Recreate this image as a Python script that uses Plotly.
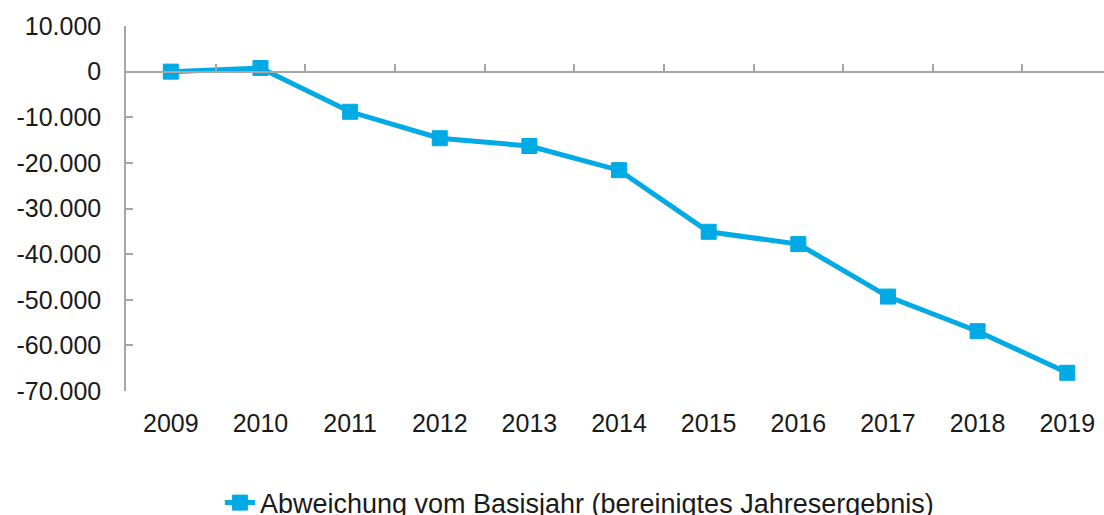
import plotly.graph_objects as go

years = ["2009", "2010", "2011", "2012", "2013", "2014", "2015", "2016", "2017", "2018", "2019"]
abweichung = [0, 800, -8800, -14600, -16300, -21600, -35100, -37800, -49300, -56900, -66000]
y_ticks = [10000, 0, -10000, -20000, -30000, -40000, -50000, -60000, -70000]
y_ticktext = [f"{v:,}".replace(",", ".") for v in y_ticks]
series_name = "Abweichung vom Basisjahr (bereinigtes Jahresergebnis)"

BLUE = "#00AAE4"
GRAY = "#A6A6A6"
FONT = "Arial, Liberation Sans, sans-serif"

x_idx = list(range(len(years)))
y_min, y_max = -70000, 10000
x_range = [-0.5, 10.41]

fig = go.Figure()
fig.add_trace(go.Scatter(
    x=x_idx, y=abweichung, mode="lines+markers", name=series_name,
    line=dict(color=BLUE, width=5),
    marker=dict(symbol="square", size=15, color=BLUE, line=dict(color=BLUE, width=1)),
    xaxis="x", yaxis="y",
))
# invisible trace to render the zero-line category axis
fig.add_trace(go.Scatter(x=[x_idx[0]], y=[0], mode="markers", marker=dict(opacity=0),
                         showlegend=False, hoverinfo="skip", xaxis="x2", yaxis="y"))

fig.update_layout(
    width=1104, height=515,
    margin=dict(l=126, r=0, t=26, b=124, autoexpand=False),
    paper_bgcolor="white", plot_bgcolor="white",
    font=dict(family=FONT, size=25, color="#1a1a1a"),
    showlegend=True,
    legend=dict(orientation="h", x=0.096, xanchor="left", y=-0.307, yanchor="middle",
                font=dict(size=27, color="#1a1a1a")),
    xaxis=dict(
        range=x_range, tickmode="array", tickvals=x_idx, ticktext=years,
        showgrid=False, zeroline=False, showline=False, ticks="", ticklabelstandoff=15,
        tickfont=dict(size=25),
    ),
    xaxis2=dict(
        range=x_range, overlaying="x", anchor="free",
        position=(0 - y_min) / (y_max - y_min), side="bottom",
        tickmode="array", tickvals=[i + 0.5 for i in x_idx[:-1]],
        showticklabels=False, ticks="inside", ticklen=7, tickwidth=1.5, tickcolor=GRAY,
        showline=True, linecolor=GRAY, linewidth=1.5, showgrid=False, zeroline=False,
    ),
    yaxis=dict(
        range=[y_min, y_max], tickmode="array", tickvals=y_ticks, ticktext=y_ticktext,
        showgrid=False, zeroline=False, showline=True, linecolor=GRAY, linewidth=1.5,
        ticks="inside", ticklen=7, tickwidth=1.5, tickcolor=GRAY,
        ticklabelstandoff=18, tickfont=dict(size=25),
    ),
)

fig.write_html("out.html", config={"displayModeBar": False},
               post_script="document.body.style.margin='0';document.body.style.overflow='hidden';")
